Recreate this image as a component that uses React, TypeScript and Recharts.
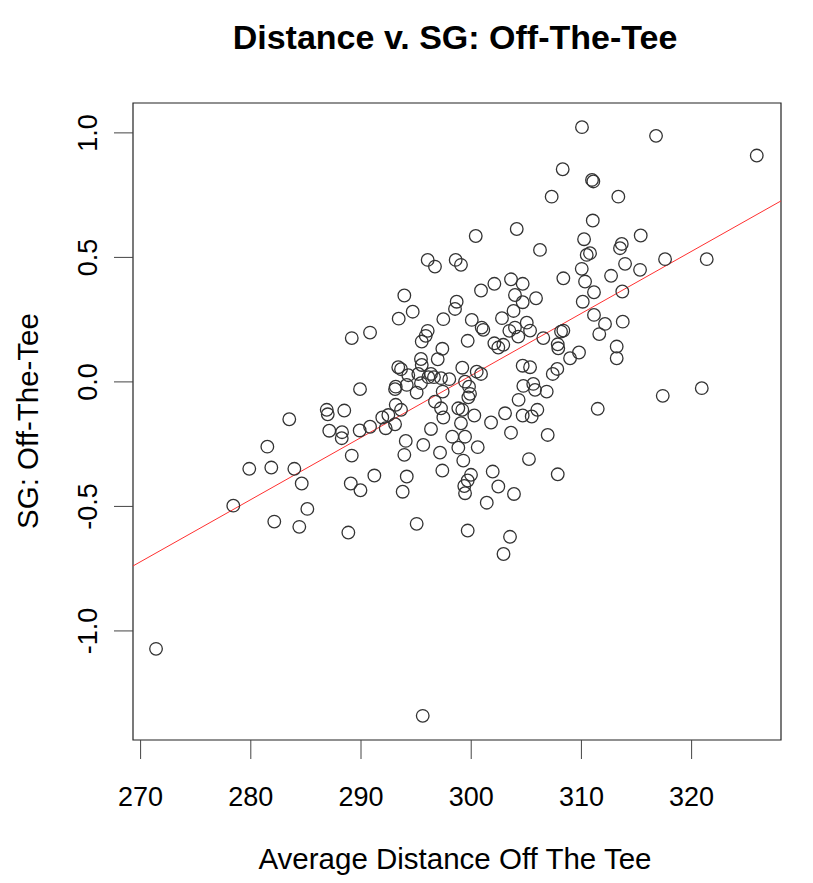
import React from "react";
import { ScatterChart, Scatter, XAxis, YAxis, ReferenceLine, ReferenceArea } from "recharts";

// average driving distance (yards)
const distance = [
  271.4, 278.41, 279.86, 281.5, 281.86, 282.13, 283.49, 283.95, 284.4, 284.62,
  285.13, 286.89, 286.98, 287.12, 288.28, 288.25, 288.48, 288.85, 289.07, 289.16,
  289.16, 289.88, 289.95, 289.91, 290.82, 293.42, 293.93, 294.69, 296.05, 296.71,
  298.59, 299.07, 300.89, 302.1, 298.68, 298.53, 297.47, 300.05, 302.79, 296.05,
  295.87, 295.51, 300.95, 301.1, 299.68, 302.1, 302.46, 302.91, 297.38, 296.96,
  295.44, 295.51, 293.38, 293.63, 299.19, 300.5, 300.89, 294.29, 295.2, 296.35,
  296.62, 297.26, 298.01, 296.11, 299.44, 299.8, 294.15, 295.44, 293.15, 293.09,
  295.05, 297.41, 299.89, 299.74, 293.15, 293.63, 296.71, 297.26, 298.83, 299.19,
  303.07, 291.93, 292.48, 293.09, 292.24, 290.82, 297.47, 300.28, 301.8, 299.07,
  296.35, 298.28, 299.44, 294.06, 295.65, 298.83, 300.59, 293.93, 297.17, 299.28,
  297.38, 301.95, 291.21, 294.15, 299.98, 299.68, 302.46, 299.37, 299.44, 293.78,
  301.41, 295.05, 299.68, 306.24, 310.48, 310.78, 313.5, 313.66, 313.96, 315.32,
  310.03, 312.69, 308.36, 303.61, 304.67, 310.33, 311.14, 313.71, 303.97, 305.88,
  310.12, 304.67, 303.84, 311.14, 313.75, 312.14, 305.04, 303.97, 303.46, 304.27,
  305.34, 308.36, 308.15, 311.62, 306.54, 307.85, 307.9, 309.78, 308.97, 313.2,
  313.2, 304.67, 305.34, 307.81, 307.4, 304.73, 305.63, 305.79, 306.85, 304.3,
  304.67, 305.49, 306.0, 311.48, 303.61, 306.94, 305.24, 307.85, 303.88, 303.52,
  302.93, 310.05, 316.77, 308.3, 310.96, 311.08, 307.3, 313.35, 311.03, 304.13,
  310.24, 315.38, 325.91, 317.59, 321.37, 320.92, 317.38, 300.41, 295.6,
];

// strokes gained off the tee
const sgOffTee = [
  -1.072, -0.497, -0.349, -0.26, -0.344, -0.561, -0.15, -0.349, -0.582, -0.408,
  -0.51, -0.112, -0.13, -0.196, -0.202, -0.226, -0.115, -0.605, -0.408, -0.296,
  0.176, -0.195, -0.435, -0.029, 0.198, 0.254, 0.347, 0.282, 0.49, 0.463,
  0.49, 0.47, 0.367, 0.394, 0.322, 0.293, 0.252, 0.249, 0.256, 0.205,
  0.185, 0.162, 0.218, 0.209, 0.165, 0.155, 0.138, 0.149, 0.133, 0.091,
  0.092, 0.068, 0.059, 0.051, 0.057, 0.041, 0.032, 0.027, 0.032, 0.032,
  0.019, 0.015, 0.011, 0.019, 0.001, -0.019, -0.012, -0.005, -0.019, -0.029,
  -0.043, -0.039, -0.048, -0.062, -0.092, -0.112, -0.079, -0.106, -0.106, -0.112,
  -0.126, -0.143, -0.133, -0.17, -0.186, -0.18, -0.143, -0.135, -0.163, -0.166,
  -0.189, -0.22, -0.22, -0.237, -0.253, -0.264, -0.262, -0.293, -0.284, -0.316,
  -0.356, -0.36, -0.376, -0.38, -0.373, -0.396, -0.42, -0.418, -0.447, -0.441,
  -0.485, -0.57, -0.597, 0.53, 0.51, 0.517, 0.537, 0.554, 0.474, 0.45,
  0.454, 0.426, 0.416, 0.412, 0.394, 0.403, 0.36, 0.363, 0.349, 0.336,
  0.322, 0.32, 0.285, 0.269, 0.242, 0.233, 0.238, 0.218, 0.205, 0.182,
  0.206, 0.206, 0.202, 0.192, 0.176, 0.151, 0.135, 0.118, 0.095, 0.142,
  0.095, 0.065, 0.059, 0.052, 0.032, -0.016, -0.008, -0.032, -0.039, -0.072,
  -0.135, -0.139, -0.112, -0.108, -0.204, -0.213, -0.31, -0.371, -0.45, -0.622,
  -0.691, 1.023, 0.988, 0.854, 0.811, 0.805, 0.744, 0.744, 0.648, 0.614,
  0.573, 0.588, 0.909, 0.493, 0.493, -0.025, -0.056, 0.586, -1.341,
];

const xTicks = [270, 280, 290, 300, 310, 320];
const yTicks = [-1.0, -0.5, 0.0, 0.5, 1.0];

// fitted line (lm)
const fitIntercept = -7.453;
const fitSlope = 0.02493;

const xDomain = [269.31, 328.11];
const yDomain = [-1.438, 1.12];

const data = distance.map((d, i) => ({ x: d, y: sgOffTee[i] }));

const font = "'Liberation Sans', Arial, sans-serif";

function XTick(props: any) {
  const { x, payload } = props;
  return (
    <text x={x} y={797} textAnchor="middle" dominantBaseline="central" fontSize={27} fontFamily={font} fill="#000">
      {payload.value}
    </text>
  );
}

function YTick(props: any) {
  const { y, payload } = props;
  return (
    <text
      x={88}
      y={y}
      transform={`rotate(-90 88 ${y})`}
      textAnchor="middle"
      dominantBaseline="central"
      fontSize={27}
      fontFamily={font}
      fill="#000"
    >
      {Number(payload.value).toFixed(1)}
    </text>
  );
}

function OpenCircle(props: any) {
  const { cx, cy } = props;
  return <circle cx={cx} cy={cy} r={6.3} fill="none" stroke="#333" strokeWidth={1.3} />;
}

export default function App() {
  return (
    <div style={{ position: "absolute", left: 0, top: 0, width: 813, height: 883, background: "#fff" }}>
      <ScatterChart width={813} height={883} margin={{ top: 103, right: 32, bottom: 83, left: 73 }}>
        <XAxis
          type="number"
          dataKey="x"
          domain={xDomain}
          ticks={xTicks}
          allowDataOverflow
          axisLine={false}
          tickSize={19}
          tickLine={{ stroke: "#444" }}
          tick={<XTick />}
          height={60}
        />
        <YAxis
          type="number"
          dataKey="y"
          domain={yDomain}
          ticks={yTicks}
          allowDataOverflow
          axisLine={false}
          tickSize={19}
          tickLine={{ stroke: "#444" }}
          tick={<YTick />}
          width={60}
        />
        <ReferenceArea
          x1={xDomain[0]}
          x2={xDomain[1]}
          y1={yDomain[0]}
          y2={yDomain[1]}
          fill="none"
          fillOpacity={0}
          stroke="#222"
          strokeWidth={1.2}
        />
        <ReferenceLine
          segment={[
            { x: xDomain[0], y: fitIntercept + fitSlope * xDomain[0] },
            { x: xDomain[1], y: fitIntercept + fitSlope * xDomain[1] },
          ]}
          stroke="#ff3030"
          strokeWidth={1}
        />
        <Scatter data={data} shape={<OpenCircle />} isAnimationActive={false} />
      </ScatterChart>
      <svg width={813} height={883} style={{ position: "absolute", left: 0, top: 0, pointerEvents: "none" }}>
        <text x={455} y={37} textAnchor="middle" dominantBaseline="central" fontSize={34} fontWeight="bold" fontFamily={font} fill="#000">
          Distance v. SG: Off-The-Tee
        </text>
        <text x={455} y={858} textAnchor="middle" dominantBaseline="central" fontSize={29.5} fontFamily={font} fill="#000">
          Average Distance Off The Tee
        </text>
        <text
          x={27}
          y={421}
          transform="rotate(-90 27 421)"
          textAnchor="middle"
          dominantBaseline="central"
          fontSize={29.5}
          fontFamily={font}
          fill="#000"
        >
          SG: Off-The-Tee
        </text>
      </svg>
    </div>
  );
}
